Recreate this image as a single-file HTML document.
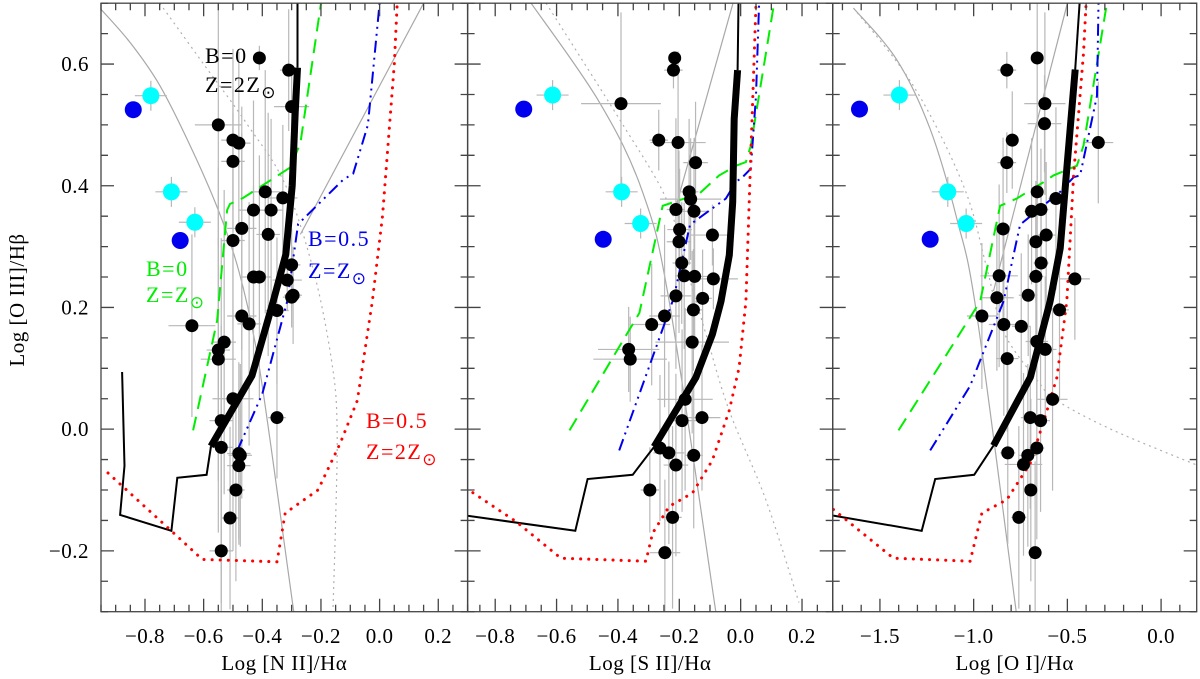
<!DOCTYPE html>
<html><head><meta charset="utf-8">
<style>
html,body{margin:0;padding:0;background:#fff;}
svg{display:block;font-family:"Liberation Serif",serif;}
</style></head>
<body>
<svg id="chart" width="1200" height="679" viewBox="0 0 1200 679" xmlns="http://www.w3.org/2000/svg"></svg>
<script>
// ---------- data ----------
const p1X=[-0.41,-0.31,-0.30,-0.55,-0.50,-0.48,-0.50,-0.39,-0.33,-0.43,-0.37,-0.47,-0.38,-0.50,-0.30,-0.43,-0.41,-0.315,-0.295,-0.30,-0.35,-0.47,-0.445,-0.64,-0.53,-0.55,-0.55,-0.50,-0.54,-0.35,-0.54,-0.48,-0.475,-0.48,-0.49,-0.51,-0.54];
const p1Y=[0.61,0.59,0.53,0.50,0.475,0.47,0.44,0.39,0.38,0.36,0.36,0.33,0.32,0.31,0.27,0.25,0.25,0.245,0.22,0.217,0.195,0.186,0.173,0.17,0.143,0.13,0.115,0.05,0.014,0.019,-0.03,-0.04,-0.043,-0.06,-0.10,-0.146,-0.20];
const p1Xe=[0.01,0.03,0.06,0.08,0.04,0.04,0.04,0.05,0.05,0.05,0.04,0.05,0.04,0.04,0.03,0.04,0.04,0.05,0.03,0.03,0.04,0.05,0.04,0.08,0.04,0.04,0.06,0.07,0.04,0.03,0.04,0.04,0.04,0.04,0.03,0.03,0.04];
const p1Ye=[0.02,0.1,0.06,0.2,0.15,0.15,0.08,0.2,0.12,0.18,0.15,0.2,0.2,0.25,0.06,0.15,0.2,0.05,0.08,0.05,0.12,0.3,0.2,0.15,0.25,0.3,0.2,0.25,0.3,0.1,0.2,0.15,0.15,0.12,0.15,0.15,0.1];
const p2X=[-0.215,-0.219,-0.39,-0.267,-0.204,-0.147,-0.168,-0.163,-0.211,-0.152,-0.199,-0.201,-0.092,-0.192,-0.184,-0.15,-0.089,-0.211,-0.124,-0.154,-0.248,-0.29,-0.158,-0.365,-0.36,-0.181,-0.191,-0.126,-0.263,-0.234,-0.153,-0.211,-0.296,-0.222,-0.247];
const p2Y=[0.61,0.59,0.535,0.475,0.471,0.438,0.39,0.378,0.361,0.358,0.328,0.308,0.319,0.273,0.252,0.251,0.247,0.219,0.215,0.196,0.186,0.172,0.143,0.131,0.115,0.049,0.014,0.019,-0.031,-0.039,-0.043,-0.059,-0.1,-0.145,-0.203];
const p2Xe=[0.01,0.03,0.13,0.03,0.09,0.04,0.03,0.1,0.03,0.05,0.04,0.04,0.07,0.03,0.03,0.05,0.08,0.05,0.03,0.03,0.05,0.06,0.12,0.1,0.12,0.09,0.05,0.06,0.02,0.05,0.03,0.04,0.03,0.03,0.05];
const p2Ye=[0.01,0.03,0.15,0.05,0.15,0.1,0.12,0.1,0.15,0.12,0.1,0.15,0.05,0.1,0.12,0.12,0.05,0.12,0.08,0.1,0.15,0.1,0.15,0.07,0.07,0.15,0.15,0.12,0.12,0.15,0.12,0.15,0.07,0.15,0.12];
const p3X=[-0.661,-0.823,-0.62,-0.622,-0.794,-0.823,-0.335,-0.661,-0.561,-0.691,-0.641,-0.843,-0.613,-0.668,-0.64,-0.864,-0.668,-0.46,-0.876,-0.709,-0.542,-0.956,-0.839,-0.746,-0.663,-0.618,-0.821,-0.579,-0.698,-0.643,-0.663,-0.818,-0.711,-0.734,-0.695,-0.759,-0.672];
const p3Y=[0.61,0.59,0.535,0.502,0.475,0.438,0.471,0.39,0.379,0.358,0.361,0.329,0.319,0.308,0.273,0.252,0.251,0.247,0.216,0.22,0.196,0.186,0.172,0.169,0.144,0.131,0.116,0.049,0.019,0.014,-0.031,-0.039,-0.043,-0.058,-0.1,-0.145,-0.203];
const p3Xe=[0.02,0.05,0.11,0.09,0.03,0.05,0.08,0.03,0.04,0.04,0.04,0.04,0.05,0.03,0.04,0.1,0.04,0.08,0.09,0.05,0.05,0.08,0.08,0.05,0.06,0.06,0.06,0.08,0.05,0.05,0.04,0.04,0.05,0.1,0.03,0.04,0.03];
const p3Ye=[0.2,0.03,0.15,0.08,0.08,0.05,0.1,0.12,0.15,0.12,0.1,0.15,0.12,0.1,0.12,0.15,0.12,0.1,0.12,0.1,0.15,0.12,0.15,0.12,0.12,0.12,0.12,0.15,0.15,0.15,0.15,0.15,0.15,0.15,0.15,0.15,0.15];
const cyan1X=[-0.78,-0.71,-0.63], cyan1Y=[0.548,0.39,0.34];
const blue1X=[-0.84,-0.68], blue1Y=[0.525,0.31];
const cyan2X=[-0.613,-0.388,-0.326], cyan2Y=[0.549,0.39,0.338];
const blue2X=[-0.707,-0.448], blue2Y=[0.526,0.312];
const cyan3X=[-1.396,-1.138,-1.04], cyan3Y=[0.549,0.39,0.338];
const blue3X=[-1.609,-1.232], blue3Y=[0.526,0.312];
// model tracks [x,y]
const thick1=[[-0.575,-0.028],[-0.435,0.088],[-0.363,0.21],[-0.32,0.287],[-0.298,0.40],[-0.288,0.52],[-0.28,0.594]];
const thin1=[[-0.878,0.094],[-0.87,-0.06],[-0.885,-0.141],[-0.71,-0.167],[-0.69,-0.08],[-0.59,-0.075],[-0.575,-0.028]];
const top1=[[-0.28,0.594],[-0.28,0.70]];
const green1=[[-0.636,-0.002],[-0.554,0.178],[-0.52,0.36],[-0.51,0.37],[-0.465,0.38],[-0.305,0.43],[-0.27,0.47],[-0.20,0.70]];
const blueL1=[[-0.485,-0.035],[-0.40,0.058],[-0.315,0.21],[-0.278,0.337],[-0.124,0.41],[-0.09,0.42],[-0.04,0.50],[0.0,0.70]];
const red1=[[-0.926,-0.072],[-0.715,-0.165],[-0.605,-0.214],[-0.35,-0.218],[-0.322,-0.138],[-0.21,-0.10],[-0.134,-0.023],[-0.076,0.047],[-0.025,0.21],[0.01,0.35],[0.05,0.60],[0.06,0.70]];
const grayA1=[[-0.95,0.69],[-0.85,0.635],[-0.75,0.565],[-0.65,0.47],[-0.55,0.36],[-0.48,0.26],[-0.42,0.13],[-0.37,-0.03],[-0.33,-0.17],[-0.29,-0.31]];
const grayB1=[[-0.27,0.32],[0.15,0.70]];
const grayD1=[[-0.75,0.70],[-0.6,0.6],[-0.45,0.5],[-0.32,0.40],[-0.22,0.25],[-0.16,0.10],[-0.145,0.0],[-0.15,-0.15],[-0.16,-0.31]];
const thick2=[[-0.282,-0.029],[-0.146,0.085],[-0.092,0.156],[-0.064,0.21],[-0.037,0.286],[-0.026,0.373],[-0.021,0.51],[-0.01,0.59]];
const thin2=[[-0.895,-0.142],[-0.539,-0.167],[-0.499,-0.082],[-0.352,-0.075],[-0.282,-0.029]];
const top2=[[-0.01,0.59],[-0.007,0.70]];
const green2=[[-0.558,-0.002],[-0.33,0.191],[-0.254,0.367],[-0.135,0.387],[-0.07,0.417],[-0.015,0.433],[0.017,0.439],[0.033,0.466],[0.109,0.70]];
const blueL2=[[-0.396,-0.035],[-0.222,0.21],[-0.211,0.232],[-0.165,0.336],[-0.048,0.379],[-0.016,0.406],[0.006,0.414],[0.033,0.428],[0.05,0.548],[0.06,0.70]];
const red2=[[-0.895,-0.097],[-0.732,-0.152],[-0.586,-0.212],[-0.309,-0.217],[-0.287,-0.171],[-0.233,-0.127],[-0.157,-0.105],[-0.092,-0.051],[-0.037,0.031],[-0.005,0.101],[0.017,0.21],[0.028,0.373],[0.05,0.70]];
const grayA2=[[-0.683,0.70],[-0.46,0.537],[-0.32,0.39],[-0.233,0.21],[-0.081,-0.30]];
const grayB2=[[-0.22,0.35],[-0.025,0.70]];
const grayD2=[[-0.634,0.70],[-0.396,0.51],[-0.244,0.38],[-0.18,0.27],[-0.113,0.156],[-0.037,0.03],[0.082,-0.116],[0.19,-0.285]];
const thick3=[[-0.894,-0.027],[-0.698,0.085],[-0.592,0.21],[-0.538,0.297],[-0.503,0.428],[-0.458,0.591]];
const thin3=[[-1.748,-0.142],[-1.277,-0.167],[-1.205,-0.082],[-0.997,-0.075],[-0.894,-0.027]];
const top3=[[-0.458,0.591],[-0.435,0.70]];
const green3=[[-1.401,-0.002],[-0.965,0.21],[-0.859,0.367],[-0.77,0.379],[-0.627,0.406],[-0.574,0.417],[-0.449,0.433],[-0.414,0.466],[-0.289,0.70]];
const blueL3=[[-1.232,-0.035],[-1.019,0.071],[-0.841,0.21],[-0.752,0.336],[-0.538,0.39],[-0.467,0.414],[-0.432,0.417],[-0.342,0.548],[-0.334,0.70]];
const red3=[[-1.748,-0.132],[-1.428,-0.212],[-1.019,-0.217],[-0.956,-0.138],[-0.823,-0.116],[-0.698,-0.056],[-0.609,0.03],[-0.556,0.085],[-0.503,0.21],[-0.467,0.417],[-0.414,0.618],[-0.4,0.70]];
const grayA3=[[-1.641,0.692],[-1.41,0.607],[-1.232,0.493],[-1.09,0.346],[-0.983,0.188],[-0.773,-0.30]];
const grayB3=[[-0.894,0.227],[-0.5,0.70]];
const grayD3=[[-1.641,0.692],[-1.321,0.564],[-1.054,0.40],[-0.93,0.265],[-0.84,0.16],[-0.66,0.08],[-0.556,0.047],[-0.254,-0.002],[0.191,-0.059]];
const p1Ticks=[-0.8,-0.6,-0.4,-0.2,0.0,0.2];
const p2Ticks=[-0.8,-0.6,-0.4,-0.2,0.0,0.2];
const p3Ticks=[-1.5,-1.0,-0.5,0.0];
const yTicks=[-0.2,0.0,0.2,0.4,0.6];

// ---------- layout ----------
const NS="http://www.w3.org/2000/svg";
const svg=document.getElementById('chart');
const Y0=611.7, Y1=3.2, YMIN=-0.3, YMAX=0.7;
function yS(v){return Y0-(v-YMIN)/(YMAX-YMIN)*(Y0-Y1);}
function mk(tag,attrs,parent){const e=document.createElementNS(NS,tag);for(const k in attrs)e.setAttribute(k,attrs[k]);(parent||svg).appendChild(e);return e;}
function smoothD(P){
  let d=`M${P[0][0].toFixed(1)},${P[0][1].toFixed(1)}`;
  for(let i=0;i<P.length-1;i++){
    const p0=P[i-1]||P[i],p1=P[i],p2=P[i+1],p3=P[i+2]||P[i+1];
    const c1=[p1[0]+(p2[0]-p0[0])/6,p1[1]+(p2[1]-p0[1])/6];
    const c2=[p2[0]-(p3[0]-p1[0])/6,p2[1]-(p3[1]-p1[1])/6];
    d+=`C${c1[0].toFixed(1)},${c1[1].toFixed(1)} ${c2[0].toFixed(1)},${c2[1].toFixed(1)} ${p2[0].toFixed(1)},${p2[1].toFixed(1)}`;
  }
  return d;
}
const panels=[
 {name:'nii',x0:101,x1:467.6,min:-0.95,max:0.30,major:p1Ticks,minorStep:0.05,title:'Log [N II]/Hα',
  X:p1X,Y:p1Y,Xe:p1Xe,Ye:p1Ye,cX:cyan1X,cY:cyan1Y,bX:blue1X,bY:blue1Y,thick:thick1,thin:thin1,top:top1,green:green1,blue:blueL1,red:red1,gA:grayA1,gB:grayB1,gD:grayD1},
 {name:'sii',x0:467.6,x1:832.7,min:-0.89,max:0.30,major:p2Ticks,minorStep:0.05,title:'Log [S II]/Hα',
  X:p2X,Y:p2Y,Xe:p2Xe,Ye:p2Ye,cX:cyan2X,cY:cyan2Y,bX:blue2X,bY:blue2Y,thick:thick2,thin:thin2,top:top2,green:green2,blue:blueL2,red:red2,gA:grayA2,gB:grayB2,gD:grayD2},
 {name:'oi',x0:832.7,x1:1196.7,min:-1.752,max:0.19,major:p3Ticks,minorStep:0.1,title:'Log [O I]/Hα',
  X:p3X,Y:p3Y,Xe:p3Xe,Ye:p3Ye,cX:cyan3X,cY:cyan3Y,bX:blue3X,bY:blue3Y,thick:thick3,thin:thin3,top:top3,green:green3,blue:blueL3,red:red3,gA:grayA3,gB:grayB3,gD:grayD3}
];
function fmt(v,d){let s=Math.abs(v).toFixed(d);return (v<-1e-9?'\u2212':'')+s;}

panels.forEach((p,pi)=>{
  const xS=v=>p.x0+(v-p.min)/(p.max-p.min)*(p.x1-p.x0);
  const g=mk('g',{});
  
  
  const cid='clip'+pi;
  const cp=mk('clipPath',{id:cid},g);mk('rect',{x:p.x0,y:Y1,width:p.x1-p.x0,height:Y0-Y1},cp);
  const plot=mk('g',{'clip-path':'url(#'+cid+')'},g);
  const path=(pts,attrs,nm)=>{const e=mk('polyline',Object.assign({points:pts.map(q=>xS(q[0]).toFixed(1)+','+yS(q[1]).toFixed(1)).join(' '),fill:'none'},attrs),plot);
    
    return e;};
  const curve=(pts,attrs,nm)=>{const e=mk('path',Object.assign({d:smoothD(pts.map(q=>[xS(q[0]),yS(q[1])])),fill:'none'},attrs),plot);
    
    return e;};
  curve(p.gA,{stroke:'#a8a8a8','stroke-width':1.2},'demarcation-curve');
  path(p.gB,{stroke:'#a8a8a8','stroke-width':1.2},'seyfert-liner-line');
  curve(p.gD,{stroke:'#b0b0b0','stroke-width':1.2,'stroke-dasharray':'2,4'},'dotted-demarcation-curve');
  // error bars
  for(let i=0;i<p.X.length;i++){
    const cx=xS(p.X[i]),cy=yS(p.Y[i]);
    const xe=(p.Xe[i]||0.03)*(p.x1-p.x0)/(p.max-p.min), ye=(p.Ye[i]||0.1)*(Y0-Y1)/(YMAX-YMIN);
    const eb=mk('path',{d:`M${cx-xe},${cy}H${cx+xe}M${cx},${cy-ye}V${cy+ye}`,stroke:'#b8b8b8','stroke-width':1.2,fill:'none'},plot);
    
    
  }
  for(let i=0;i<p.cX.length;i++){
    const cx=xS(p.cX[i]),cy=yS(p.cY[i]);
    const eb=mk('path',{d:`M${cx-16},${cy}H${cx+16}M${cx},${cy-15}V${cy+15}`,stroke:'#b8b8b8','stroke-width':1.2},plot);
    
    
  }
  path(p.thin,{stroke:'#000','stroke-width':2,'stroke-linejoin':'miter'},'model-track-thin');
  path(p.top,{stroke:'#000','stroke-width':2},'model-track-thin-top');
  path(p.green,{stroke:'#00ee00','stroke-width':2,'stroke-dasharray':'14,8'},'model-b0-zsun-green');
  path(p.blue,{stroke:'#0000ee','stroke-width':2,'stroke-dasharray':'12,5,2,5,2,5'},'model-b05-zsun-blue');
  path(p.red,{stroke:'#ff0000','stroke-width':3,'stroke-dasharray':'0.1,8','stroke-linecap':'round'},'model-b05-2zsun-red');
  path(p.thick,{stroke:'#000','stroke-width':7,'stroke-linejoin':'round'},'model-b0-2zsun-thick');
  for(let i=0;i<p.X.length;i++){
    const c=mk('circle',{cx:xS(p.X[i]),cy:yS(p.Y[i]),r:6.5,fill:'#000'},plot);
    
    
  }
  for(let i=0;i<p.cX.length;i++){
    const c=mk('circle',{cx:xS(p.cX[i]),cy:yS(p.cY[i]),r:8.5,fill:'#00ffff'},plot);
    
    
  }
  for(let i=0;i<p.bX.length;i++){
    const c=mk('circle',{cx:xS(p.bX[i]),cy:yS(p.bY[i]),r:8.5,fill:'#0000ee'},plot);
    
    
  }
  // frame
  const fr=mk('rect',{x:p.x0,y:Y1,width:p.x1-p.x0,height:Y0-Y1,fill:'none',stroke:'#444','stroke-width':1.3},g);
  
  
  // ticks
  let d='';
  const n0=Math.ceil(p.min/p.minorStep-1e-6), n1=Math.floor(p.max/p.minorStep+1e-6);
  for(let n=n0;n<=n1;n++){
    const v=n*p.minorStep, x=xS(v);
    const isMaj=p.major.some(t=>Math.abs(t-v)<1e-6);
    const L=isMaj?13:7;
    d+=`M${x},${Y0}V${Y0-L}M${x},${Y1}V${Y1+L}`;
  }
  for(let n=-6;n<=14;n++){
    const v=n*0.05;if(v<YMIN-1e-6||v>YMAX+1e-6)continue;
    const y=yS(v);const isMaj=Math.abs(Math.round(v*5)-v*5)<1e-6;const L=isMaj?13:7;
    d+=`M${p.x0},${y}H${p.x0+L}M${p.x1},${y}H${p.x1-L}`;
  }
  const tk=mk('path',{d:d,stroke:'#444','stroke-width':1.3,fill:'none'},g);
  
  
  p.major.forEach(v=>{
    const t=mk('text',{x:xS(v),y:643,'font-size':21,'text-anchor':'middle','letter-spacing':'0.5'},g);
    t.textContent=fmt(v,1);
    
    
  });
  const tt=mk('text',{x:(p.x0+p.x1)/2,y:670,'font-size':21,'text-anchor':'middle','letter-spacing':'0.5'},g);
  tt.textContent=p.title;
  
  
});
yTicks.forEach(v=>{
  const t=mk('text',{x:89,y:yS(v)+7,'font-size':21,'text-anchor':'end','letter-spacing':'0.5'});
  t.textContent=fmt(v,1);
  
  
});
const yt=mk('text',{x:0,y:0,'font-size':21,'text-anchor':'middle',transform:'translate(24,300) rotate(-90)','letter-spacing':'0.5'});
yt.textContent='Log [O III]/Hβ';


// annotations
function ann(x,y,color,main,sub,nm){
  const t=mk('text',{x:x,y:y,'font-size':22,fill:color,'letter-spacing':'1.5'});
  t.appendChild(document.createTextNode(main));
  if(sub){const s=mk('tspan',{'font-size':17,dy:6},t);s.textContent=sub;}
  
  
}
ann(205,63,'#000','B=0',null,'label-black-b');
ann(205,92,'#000','Z=2Z','\u2299','label-black-z');
ann(146,276,'#00ee00','B=0',null,'label-green-b');
ann(146,302,'#00ee00','Z=Z','\u2299','label-green-z');
ann(308,246,'#0000ee','B=0.5',null,'label-blue-b');
ann(308,278,'#0000ee','Z=Z','\u2299','label-blue-z');
ann(366,428,'#ff0000','B=0.5',null,'label-red-b');
ann(366,459,'#ff0000','Z=2Z','\u2299','label-red-z');
</script>
</body></html>
